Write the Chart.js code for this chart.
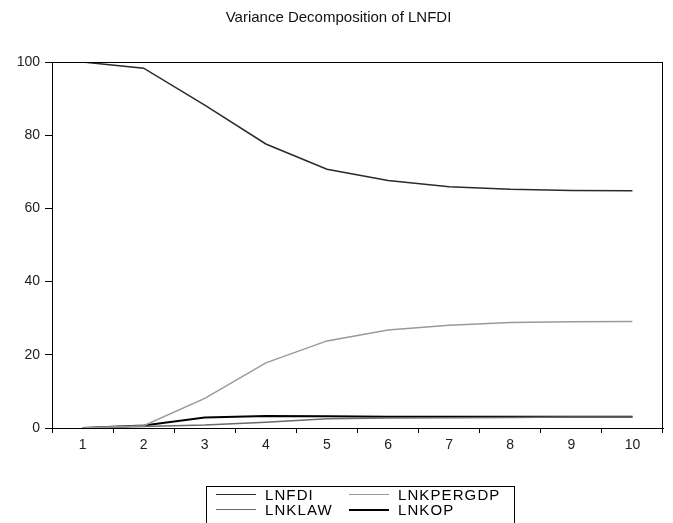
<!DOCTYPE html>
<html>
<head>
    <title>Variance Decomposition of LNFDI</title>
    <script src="https://cdn.jsdelivr.net/npm/chart.js"></script>
    <style>
        body { margin: 0; background: #fff; }
        #wrap { position: relative; width: 673px; height: 523px; overflow: hidden; }
        #legend {
            position: absolute; left: 206px; top: 486px; width: 309px; height: 40px;
            border: 1px solid #000; font-family: Arial, "Liberation Sans", sans-serif;
            font-size: 15px; letter-spacing: 1.1px; color: #000;
            display: grid; grid-template-columns: 133px 172px; grid-auto-rows: 15px;
            padding-top: 0; box-sizing: border-box;
        }
        #legend div { display: flex; align-items: center; white-space: nowrap; }
        #legend span.line { display: inline-block; width: 40px; margin-left: 9px; margin-right: 9px; }
    </style>
</head>
<body>
    <div id="wrap">
        <canvas id="lineChart" width="673" height="523"></canvas>
        <div id="legend"></div>
    </div>

    <script>
        // forecast periods
        const periods = ['1', '2', '3', '4', '5', '6', '7', '8', '9', '10'];

        // variance shares (percent)
        const lnfdi = [100, 98.3, 88.2, 77.6, 70.7, 67.6, 65.9, 65.2, 64.9, 64.8];
        const lnkpergdp = [0, 0.6, 8.1, 17.8, 23.8, 26.8, 28.1, 28.8, 29.0, 29.1];
        const lnklaw = [0, 0.4, 0.8, 1.6, 2.5, 2.7, 2.8, 2.9, 3.0, 3.0];
        const lnkop = [0, 0.7, 2.9, 3.3, 3.2, 3.1, 3.1, 3.1, 3.1, 3.1];

        const yTicks = [0, 20, 40, 60, 80, 100];

        const series = [
            { label: 'LNFDI', data: lnfdi, color: '#2a2a2a', width: 1.5 },
            { label: 'LNKPERGDP', data: lnkpergdp, color: '#9a9a9a', width: 1.5 },
            { label: 'LNKLAW', data: lnklaw, color: '#6a6a6a', width: 1.5 },
            { label: 'LNKOP', data: lnkop, color: '#000000', width: 2 }
        ];

        const font = "Arial, 'Liberation Sans', sans-serif";

        // box around the plot area, title centred on the page
        const frame = {
            id: 'frame',
            afterDraw(chart) {
                const a = chart.chartArea;
                const ctx = chart.ctx;
                ctx.save();
                ctx.strokeStyle = '#000';
                ctx.lineWidth = 1;
                ctx.strokeRect(a.left + 0.5, a.top + 0.5, a.right - a.left - 1, a.bottom - a.top);
                ctx.fillStyle = '#111';
                ctx.font = '15px ' + font;
                ctx.textAlign = 'center';
                ctx.textBaseline = 'middle';
                ctx.fillText('Variance Decomposition of LNFDI', chart.width / 2 + 2, 18);
                ctx.restore();
            }
        };

        new Chart(document.getElementById('lineChart'), {
            type: 'line',
            data: {
                labels: periods,
                datasets: series.map(s => ({
                    label: s.label,
                    data: s.data,
                    borderColor: s.color,
                    borderWidth: s.width,
                    pointRadius: 0,
                    tension: 0,
                    fill: false
                }))
            },
            options: {
                responsive: false,
                animation: false,
                layout: { padding: { left: 0, right: 10, top: 62, bottom: 55 } },
                plugins: {
                    legend: { display: false },
                    tooltip: { enabled: false },
                    title: { display: false }
                },
                scales: {
                    x: {
                        offset: true,
                        grid: { offset: true, drawOnChartArea: false, drawTicks: true, tickLength: 5, color: '#000' },
                        border: { display: true, color: '#000', width: 1 },
                        ticks: { color: '#222', padding: 4, font: { family: font, size: 14 }, maxRotation: 0 },
                        afterFit(scale) { scale.height = 40; }
                    },
                    y: {
                        min: 0,
                        max: 100,
                        afterBuildTicks(scale) { scale.ticks = yTicks.map(v => ({ value: v })); },
                        grid: { drawOnChartArea: false, drawTicks: true, tickLength: 7, color: '#000' },
                        border: { display: true, color: '#000', width: 1 },
                        ticks: { color: '#222', padding: 5, font: { family: font, size: 14 } },
                        afterFit(scale) { scale.width = 52; }
                    }
                }
            },
            plugins: [frame]
        });

        // two-column legend box under the chart
        const legend = document.getElementById('legend');
        series.forEach(s => {
            const item = document.createElement('div');
            const line = document.createElement('span');
            line.className = 'line';
            line.style.borderTop = s.width + 'px solid ' + s.color;
            item.appendChild(line);
            item.appendChild(document.createTextNode(s.label));
            legend.appendChild(item);
        });
    </script>
</body>
</html>
